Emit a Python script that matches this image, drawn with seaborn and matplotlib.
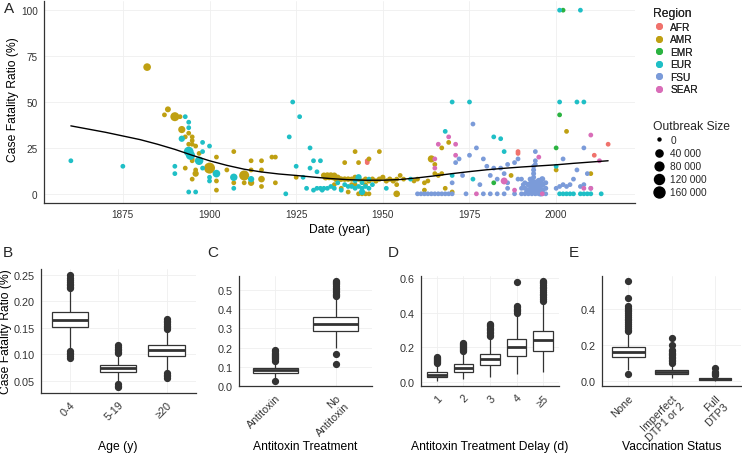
import numpy as np
import pandas as pd
import matplotlib
matplotlib.use('Agg')
import matplotlib.pyplot as plt
from matplotlib.colors import PowerNorm
from matplotlib.lines import Line2D
import seaborn as sns

# ---------------- panel A: outbreaks (year, case fatality ratio %, outbreak size)
afr_pts = [(1945.5, 18, 8000), (1945.5, 17, 8000), (1989, 23, 8000), (1989, 22, 8000),
           (2011, 21, 8000), (2015, 27, 8000)]

emr_pts = [(2002, 100, 8000), (2001, 43, 8000), (2000, 25, 8000), (1982, 6, 8000)]

sear_pts = [(1966, 27, 8000), (1969, 31, 8000), (1971, 27, 8000), (1965, 19, 8000),
            (1965, 14, 8000), (1971, 21, 8000), (1977, 0, 8000), (1985, 7, 35000),
            (1988, 2, 8000), (1995, 20, 8000), (1996, 0, 8000), (2008, 3, 8000),
            (2010, 3, 8000), (2010, 32, 8000), (2012.5, 18, 8000)]

eur_pts = [(1860, 18, 8000), (1875, 15, 8000), (1890, 15, 8000), (1890, 11, 8000),
           (1893, 42, 8000), (1894, 39, 8000), (1894, 36, 8000), (1892, 30, 25000),
           (1898, 28, 8000), (1900, 26, 8000), (1894, 23, 110000), (1894.5, 21, 90000),
           (1897, 18, 70000), (1898, 23, 8000), (1898, 14, 8000), (1900, 9, 8000),
           (1900, 7, 8000), (1902, 11, 50000), (1894, 1, 8000), (1896, 1, 8000),
           (1907, 9, 45000), (1907, 3, 8000), (1912, 8, 25000), (1922, 0, 8000),
           (1923, 31, 8000), (1924, 50, 8000), (1926, 42, 8000), (1925, 15, 8000),
           (1927, 9, 8000), (1928, 3, 8000), (1929, 25, 8000), (1930, 18, 8000),
           (1932, 18, 8000), (1929, 14, 8000), (1931, 12, 8000), (1930, 2, 8000),
           (1931, 3, 8000), (1932, 3, 8000), (1932.5, 2, 8000), (1933, 3, 8000),
           (1934, 3, 8000), (1935, 4, 8000), (1936, 3, 8000), (1937, 6, 8000),
           (1938, 2, 8000), (1939, 5, 8000), (1940, 4, 8000), (1941, 4, 8000),
           (1942, 3, 8000), (1943, 9, 25000), (1943, 4, 8000), (1944, 3, 8000),
           (1944, 1, 25000), (1945, 4, 8000), (1946, 8, 8000), (1946, 3, 8000),
           (1947, 5, 8000), (1942, 7, 8000), (1944, 6, 8000), (1951, 3, 8000),
           (1958, 8, 8000), (1968, 34, 8000), (1970, 50, 8000), (1975, 50, 8000),
           (1970, 10, 8000), (1976, 8, 8000), (1982, 31, 8000), (1984, 30, 8000),
           (1985, 23, 8000), (2000, 15, 8000), (2001, 100, 8000), (2007, 100, 8000),
           (2001, 50, 8000), (2006, 50, 8000), (2008, 50, 8000),
           (2001, 0, 8000), (2002, 0, 8000), (2003, 0, 8000), (2004, 0, 8000),
           (2005, 0, 8000), (2007, 0, 8000), (2008, 0, 8000), (2009, 0, 8000),
           (2010, 0, 8000), (2013, 0, 8000)]

amr_pts = [(1882, 69, 50000), (1887, 43, 8000), (1888, 46, 20000), (1890, 42, 85000),
           (1891.5, 42, 8000), (1892, 35, 40000), (1893, 31, 8000), (1894, 33, 8000),
           (1895, 31, 8000), (1895, 29, 8000), (1894, 27, 8000), (1895, 27, 8000),
           (1896, 26, 8000), (1897, 22, 8000), (1895, 19, 8000), (1895, 18, 8000),
           (1893, 14, 8000), (1896, 13, 8000), (1896, 11, 25000), (1900, 14, 160000),
           (1902, 20, 8000), (1902, 7, 8000), (1902, 2, 8000), (1895, 8, 8000),
           (1905, 13, 8000), (1907, 23, 8000), (1907, 6, 8000), (1910, 10, 120000),
           (1910, 6, 8000), (1912, 6, 25000), (1912, 18, 8000), (1912, 13, 8000),
           (1915, 18, 8000), (1915, 13, 8000), (1915, 8, 30000), (1915, 4, 8000),
           (1918, 20, 8000), (1919, 20, 8000), (1919, 6, 8000), (1925, 9, 8000),
           (1933, 10, 20000), (1933.5, 9, 25000), (1934, 10, 25000), (1934.5, 9, 20000),
           (1935, 10, 25000), (1935.5, 9, 20000), (1936, 10, 20000), (1936.5, 8, 20000),
           (1937, 9, 15000), (1937.5, 8, 15000), (1938, 8, 15000), (1939, 8, 15000),
           (1940, 8, 15000), (1936, 5, 8000), (1938, 3, 8000), (1940, 1, 8000),
           (1939, 17, 8000), (1942, 23, 8000), (1943, 17, 8000), (1946, 19, 8000),
           (1949, 23, 8000), (1943, 0, 8000), (1944, 0, 8000), (1945, 0, 8000),
           (1946, 0, 8000), (1941, 8, 12000), (1942, 9, 12000), (1943, 8, 12000),
           (1944, 7, 12000), (1945, 8, 12000), (1946, 7, 12000), (1947, 8, 12000),
           (1948, 7, 12000), (1949, 8, 12000), (1950, 9, 12000), (1951, 7, 12000),
           (1952, 8, 12000), (1953, 7, 12000), (1954, 8, 8000), (1941, 5, 8000),
           (1942, 5, 8000), (1945, 5, 8000), (1954, 0, 30000), (1954, 5, 8000),
           (1955, 10, 8000), (1956, 8, 8000), (1959, 7, 8000), (1960, 8, 8000),
           (1962, 6, 8000), (1963, 7, 8000), (1964, 19, 40000), (1965, 16, 8000),
           (1967, 25, 8000), (1969, 28, 8000), (1967, 11, 8000), (1966, 10, 8000),
           (1965, 11, 8000), (1968, 3, 8000), (1970, 1, 8000), (1962, 2, 8000),
           (1987, 10, 8000), (2003, 34, 8000), (2000, 13, 8000), (2010, 11, 8000)]

fsu_pts = [(1960, 0, 8000), (1961, 0, 8000), (1962, 0, 8000), (1963, 0, 8000),
           (1964, 0, 8000), (1965, 0, 8000), (1966, 0, 8000), (1967, 0, 8000),
           (1968, 0, 8000), (1969, 0, 8000), (1970, 0, 8000), (1974, 0, 8000),
           (1979, 0, 8000), (1981, 0, 8000), (1983, 0, 8000), (1985, 0, 8000),
           (1988, 0, 8000), (1990, 0, 8000), (1991, 0, 8000), (1992, 0, 8000),
           (1993, 0, 8000), (1994, 0, 8000), (1995, 0, 8000), (1996, 0, 8000),
           (1997, 0, 8000), (1976, 38, 8000), (1975, 21, 8000), (1977, 25, 8000),
           (1972, 19, 8000), (1971, 17, 8000), (1973, 10, 8000), (1970, 6, 8000),
           (1978, 5, 8000), (1979, 19, 8000), (1980, 15, 8000), (1981, 10, 8000),
           (1982, 14, 8000), (1984, 14, 8000), (1983, 8, 8000), (1985, 11, 8000),
           (1986, 16, 8000), (1986, 3, 8000), (1986, 6, 8000), (1988, 17, 8000),
           (1989, 19, 8000), (1989, 8, 8000), (1990, 8, 8000), (1990, 3, 8000),
           (1994, 23, 8000), (1994, 18, 8000), (1994, 16, 8000), (1993.5, 15, 8000),
           (1993.5, 13, 10000), (1993.5, 11, 10000), (1993.5, 9, 10000),
           (2002, 19, 8000), (2006, 13, 8000), (2005, 8, 8000), (2008, 25, 8000),
           (2009, 11, 8000), (2000, 3, 8000), (2001, 4, 8000), (2002, 5, 8000),
           (2003, 4, 8000), (2004, 5, 8000), (2007, 4, 8000), (2008, 5, 8000),
           (2010, 3, 8000), (1991, 6, 8000), (1991, 3, 10000), (1992, 5, 20000),
           (1992, 2, 20000), (1993, 7, 25000), (1993, 4, 30000), (1993, 1, 25000),
           (1994, 6, 30000), (1994, 3, 35000), (1994, 1, 30000), (1995, 7, 25000),
           (1995, 4, 30000), (1995, 2, 25000), (1996, 8, 20000), (1996, 5, 25000),
           (1996, 2, 20000), (1997, 6, 10000), (1997, 3, 10000), (1992.5, 8, 10000),
           (1990.5, 5, 8000), (1991.5, 1, 10000), (1995.5, 0, 15000)]

region_order = ['AFR', 'AMR', 'EMR', 'EUR', 'FSU', 'SEAR']
region_colors = ['#F0726C', '#BFA012', '#2BB341', '#1FBFC6', '#7B9BD9', '#D96DB8']

# loess trend
smooth_year = [1860, 1870, 1875, 1880, 1885, 1890, 1895, 1900, 1905, 1910, 1915, 1920,
               1925, 1930, 1935, 1940, 1945, 1950, 1955, 1960, 1965, 1970, 1975, 1980,
               1985, 1990, 1995, 2000, 2005, 2010, 2015]
smooth_cfr = [37, 33.5, 31.5, 29.5, 27, 24.2, 21, 18, 15.5, 13.4, 11.9, 10.8,
              10, 9.1, 8.3, 7.7, 7.4, 7.4, 7.8, 8.7, 9.8, 11, 12.1, 13.1,
              13.9, 14.6, 15.2, 15.8, 16.6, 17.3, 18]

size_breaks = [0, 40000, 80000, 120000, 160000]
size_labels = ['0', '40 000', '80 000', '120 000', '160 000']

# ---------------- panels B-E: (lower whisker, q1, median, q3, upper whisker) + outliers
age_cats = ['0-4', '5-19', '≥20']
age_stats = [(0.111, 0.151, 0.164, 0.179, 0.220),
             (0.047, 0.066, 0.074, 0.080, 0.100),
             (0.069, 0.0975, 0.108, 0.117, 0.145)]
age_out = [[0.094, 0.097, 0.100, 0.103, 0.106, 0.224, 0.227, 0.230, 0.233, 0.236, 0.240, 0.243, 0.250],
           [0.038, 0.041, 0.044, 0.102, 0.105, 0.108, 0.111, 0.114, 0.117],
           [0.056, 0.059, 0.062, 0.065, 0.148, 0.151, 0.154, 0.157, 0.160, 0.163, 0.166]]

anti_cats = ['Antitoxin', 'No\nAntitoxin']
anti_stats = [(0.040, 0.069, 0.081, 0.093, 0.128),
              (0.200, 0.287, 0.325, 0.359, 0.462)]
anti_out = [[0.024, 0.132, 0.138, 0.144, 0.150, 0.156, 0.162, 0.168, 0.174, 0.180, 0.186],
            [0.115, 0.165, 0.468, 0.475, 0.482, 0.490, 0.498, 0.506, 0.514, 0.522, 0.530, 0.538, 0.545, 0.548]]

delay_cats = ['1', '2', '3', '4', '≥5']
delay_stats = [(0.005, 0.027, 0.042, 0.057, 0.097),
               (0.019, 0.057, 0.080, 0.105, 0.176),
               (0.029, 0.097, 0.131, 0.162, 0.255),
               (0.048, 0.150, 0.202, 0.248, 0.385),
               (0.059, 0.181, 0.242, 0.295, 0.460)]
delay_out = [[0.102, 0.108, 0.114, 0.120, 0.126, 0.132, 0.138, 0.143],
             [0.180, 0.186, 0.192, 0.198, 0.204, 0.210, 0.216, 0.222, 0.225],
             [0.258, 0.266, 0.274, 0.282, 0.290, 0.298, 0.306, 0.314, 0.322, 0.330, 0.335],
             [0.400, 0.408, 0.416, 0.424, 0.432, 0.440, 0.575],
             [0.470, 0.480, 0.490, 0.500, 0.510, 0.520, 0.530, 0.540, 0.550, 0.560, 0.570, 0.578, 0.583]]

vacc_cats = ['None', 'Imperfect\nDTP1 or 2', 'Full\nDTP3']
vacc_stats = [(0.060, 0.133, 0.161, 0.188, 0.268),
              (0.018, 0.040, 0.051, 0.064, 0.098),
              (0.000, 0.007, 0.013, 0.018, 0.032)]
vacc_out = [[0.042, 0.275, 0.285, 0.295, 0.305, 0.315, 0.325, 0.335, 0.345, 0.355, 0.365,
             0.375, 0.385, 0.395, 0.405, 0.416, 0.458, 0.552],
            [0.103, 0.110, 0.118, 0.126, 0.134, 0.142, 0.150, 0.158, 0.166, 0.170, 0.200, 0.239],
            [0.036, 0.040, 0.045, 0.050, 0.073]]

dark = '#333333'
title_fs = 8.7

sns.set_style('white')
plt.rcParams['font.family'] = ['Liberation Sans', 'DejaVu Sans']
plt.rcParams['axes.linewidth'] = 0.8


def pts_frame():
    rows = []
    for reg, pts in zip(region_order, [afr_pts, amr_pts, emr_pts, eur_pts, fsu_pts, sear_pts]):
        for yr, cfr, sz in pts:
            rows.append((reg, yr, cfr, sz))
    return pd.DataFrame(rows, columns=['region', 'year', 'cfr', 'size'])


def box_frame(cats, stats, outs, k=60):
    # rebuild a sample whose box statistics equal the values
    rows = []
    for c, (lo, q1, med, q3, hi), out in zip(cats, stats, outs):
        vals = list(out) + [lo, hi] + [q1] * k + [med] * k + [q3] * k
        rows += [(c, v) for v in vals]
    return pd.DataFrame(rows, columns=['group', 'cfr'])


def style_ax(ax, fs):
    sns.despine(ax=ax)
    for s in ['left', 'bottom']:
        ax.spines[s].set_color(dark)
        ax.spines[s].set_linewidth(0.9)
    ax.grid(True, color='#EFEFEF', linewidth=0.6)
    ax.set_axisbelow(True)
    ax.tick_params(axis='both', direction='out', length=3, width=0.8, color=dark,
                   labelsize=fs, labelcolor=dark, pad=1.5)


W, H = 742, 456
fig = plt.figure(figsize=(W / 100, H / 100), dpi=100)


def add_ax(l, t, r, b):
    return fig.add_axes([l / W, 1 - b / H, (r - l) / W, (b - t) / H])


# ---------------- panel A
axA = add_ax(44, 2, 635, 204)
df = pts_frame()
snorm = PowerNorm(gamma=0.7, vmin=0, vmax=160000)
smin, smax = 4.7, 62.7
sns.scatterplot(data=df, x='year', y='cfr', hue='region', hue_order=region_order,
                palette=region_colors, size='size', sizes=(smin, smax), size_norm=snorm,
                edgecolor='none', linewidth=0, alpha=1, legend=False, ax=axA)
sns.lineplot(x=smooth_year, y=smooth_cfr, color='black', linewidth=1.0, ax=axA)
axA.set_xticks([1875, 1900, 1925, 1950, 1975, 2000])
axA.set_yticks([0, 25, 50, 75, 100])
axA.margins(x=0.05, y=0.05)
style_ax(axA, 7.2)
axA.set_xlabel('Date (year)', fontsize=title_fs, color='black', va='center')
axA.xaxis.set_label_coords(0.5, (204 - 230.5) / 202)
axA.set_ylabel('Case Fatality Ratio (%)', fontsize=title_fs, color='black', va='center')
axA.yaxis.set_label_coords((13 - 44) / 591, (204 - 100) / 202)

# legends
reg_handles = [Line2D([], [], marker='o', ls='', color=c, markersize=4.0) for c in region_colors]
leg1 = fig.legend(reg_handles, region_order, title='Region', loc='upper left',
                  bbox_to_anchor=(653 / W, 1 - 8 / H), frameon=False, fontsize=7.3,
                  title_fontsize=title_fs, labelspacing=0.25, handletextpad=0.5,
                  borderaxespad=0, borderpad=0, handlelength=1.2, alignment='left')
leg1.get_title().set_fontweight('normal')
size_handles = []
for v in size_breaks:
    s = smin + float(snorm(v)) * (smax - smin)
    size_handles.append(Line2D([], [], marker='o', ls='', color='black', markersize=np.sqrt(s)))
leg2 = fig.legend(size_handles, size_labels, title='Outbreak Size', loc='upper left',
                  bbox_to_anchor=(653 / W, 1 - 121 / H), frameon=False, fontsize=7.3,
                  title_fontsize=title_fs, labelspacing=0.3, handletextpad=0.5,
                  borderaxespad=0, borderpad=0, handlelength=1.2, alignment='left')
leg2.get_title().set_fontweight('normal')
fig.add_artist(leg1)

# ---------------- panels B-E
panels = [
    ('B', (40.7, 270, 195.7, 394), age_cats, age_stats, age_out, 'Age (y)',
     [0.05, 0.10, 0.15, 0.20, 0.25], '{:.2f}', 3),
    ('C', (239, 277, 372, 387.3), anti_cats, anti_stats, anti_out, 'Antitoxin Treatment',
     [0.0, 0.1, 0.2, 0.3, 0.4, 0.5], '{:.1f}', 207),
    ('D', (421, 277, 559, 387.3), delay_cats, delay_stats, delay_out,
     'Antitoxin Treatment Delay (d)', [0.0, 0.2, 0.4, 0.6], '{:.1f}', 388),
    ('E', (602.3, 277, 741, 387.3), vacc_cats, vacc_stats, vacc_out, 'Vaccination Status',
     [0.0, 0.2, 0.4], '{:.1f}', 569),
]

for letter, (l, t, r, b), cats, stats, outs, xlab, yt, fmt, lx in panels:
    ax = add_ax(l, t, r, b)
    bdf = box_frame(cats, stats, outs)
    sns.boxplot(data=bdf, x='group', y='cfr', order=cats, ax=ax, width=0.75,
                color='white', linecolor=dark, linewidth=0.9, showcaps=False,
                flierprops=dict(marker='o', markerfacecolor=dark, markeredgecolor=dark,
                                markersize=4.2),
                medianprops=dict(linewidth=2.0, color=dark))
    ax.set_xlim(-0.6, len(cats) - 0.4)
    ax.set_yticks(yt)
    ax.set_yticklabels([fmt.format(v) for v in yt])
    style_ax(ax, 7.8)
    ax.set_ylabel('')
    plt.setp(ax.get_xticklabels(), rotation=45, ha='right', va='top', rotation_mode='anchor')
    ax.set_xlabel(xlab, fontsize=title_fs, color='black', va='center')
    ax.xaxis.set_label_coords(0.5, (b - 447) / (b - t))
    fig.text(lx / W, 1 - 253 / H, letter, fontsize=11, va='center', ha='left')
    if letter == 'B':
        ax.set_ylabel('Case Fatality Ratio (%)', fontsize=title_fs, color='black', va='center')
        ax.yaxis.set_label_coords((6 - l) / (r - l), (b - 332) / (b - t))

fig.text(4 / W, 1 - 9 / H, 'A', fontsize=11, va='center', ha='left')

fig.savefig('out.png', dpi=100)
